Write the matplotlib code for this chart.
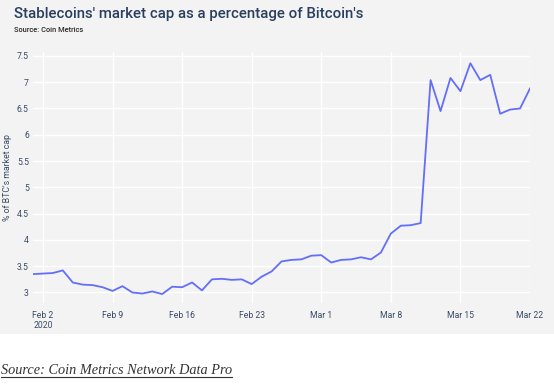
import matplotlib
matplotlib.use("Agg")
import matplotlib.pyplot as plt
from matplotlib.lines import Line2D
from matplotlib.patches import Rectangle
import pandas as pd

start_date = "2020-02-01"
values = [3.35, 3.36, 3.37, 3.42, 3.19, 3.15, 3.14, 3.10, 3.03, 3.12,
          3.00, 2.98, 3.02, 2.97, 3.11, 3.10, 3.19, 3.04, 3.25, 3.26,
          3.24, 3.25, 3.16, 3.30, 3.40, 3.59, 3.62, 3.63, 3.70, 3.71,
          3.57, 3.62, 3.63, 3.67, 3.63, 3.76, 4.12, 4.27, 4.28, 4.32,
          7.04, 6.45, 7.08, 6.83, 7.36, 7.04, 7.14, 6.40, 6.48, 6.50,
          6.88]
dates = pd.date_range(start_date, periods=len(values), freq="D")
xtick_dates = ["2020-02-02", "2020-02-09", "2020-02-16", "2020-02-23",
               "2020-03-01", "2020-03-08", "2020-03-15", "2020-03-22"]
xtick_labels = ["Feb 2\n2020", "Feb 9", "Feb 16", "Feb 23", "Mar 1", "Mar 8", "Mar 15", "Mar 22"]
yticks = [3, 3.5, 4, 4.5, 5, 5.5, 6, 6.5, 7, 7.5]
ytick_labels = ["3", "3.5", "4", "4.5", "5", "5.5", "6", "6.5", "7", "7.5"]

title = "Stablecoins' market cap as a percentage of Bitcoin's"
subtitle = "Source: Coin Metrics"
ylabel = "% of BTC's market cap"
footer = "Source: Coin Metrics Network Data Pro"

W, H = 554, 385
fig = plt.figure(figsize=(W / 100, H / 100), dpi=100)
fig.patch.set_facecolor("white")
bg = "#f3f3f3"
fig.add_artist(Rectangle((0, 1 - 334 / H), 1, 334 / H, transform=fig.transFigure,
                         facecolor=bg, edgecolor="none", zorder=0))

ax = fig.add_axes([33 / W, 1 - 303 / H, (530 - 33) / W, (303 - 51.7) / H])
ax.set_facecolor(bg)
ax.plot(dates, values, color="#636efa", lw=1.3, zorder=3)
ax.set_xlim(dates[0], dates[-1])
ax.set_ylim(2.80, 7.58)
for s in ax.spines.values():
    s.set_visible(False)
ax.set_yticks(yticks)
ax.set_yticklabels(ytick_labels)
ax.set_xticks(pd.to_datetime(xtick_dates))
ax.set_xticklabels(xtick_labels, linespacing=1.15)
ax.grid(True, color="white", lw=1, zorder=1)
ax.set_axisbelow(True)
tick_col = "#3a4a66"
ax.tick_params(axis="both", length=0, labelsize=6.2, labelcolor=tick_col)
ax.tick_params(axis="y", pad=3)
ax.tick_params(axis="x", pad=6)
for lab in ax.get_xticklabels() + ax.get_yticklabels():
    lab.set_fontfamily("Roboto")

fig.text(8 / W, 1 - 178 / H, ylabel, rotation=90, ha="center", va="center",
         fontsize=6.3, color=tick_col, family="Roboto")
fig.text(14 / W, 1 - 14 / H, title, ha="left", va="center", fontsize=10.8,
         color="#2a3f5f", family="Roboto", weight="medium")
fig.text(14 / W, 1 - 30 / H, subtitle, ha="left", va="center", fontsize=5.4,
         color="#2a2a2a", family="Roboto", weight="medium")

ft = fig.text(1 / W, 1 - 370 / H, footer, ha="left", va="center", fontsize=10.3,
              color="#333333", family="Liberation Serif", style="italic")
fig.canvas.draw()
bb = ft.get_window_extent(fig.canvas.get_renderer())
yline = (bb.y0 - 0.5) / H
fig.add_artist(Line2D([bb.x0 / W, bb.x1 / W], [yline, yline], transform=fig.transFigure,
                      color="#333333", lw=0.8))

fig.savefig("out.png", dpi=100, facecolor="white")
